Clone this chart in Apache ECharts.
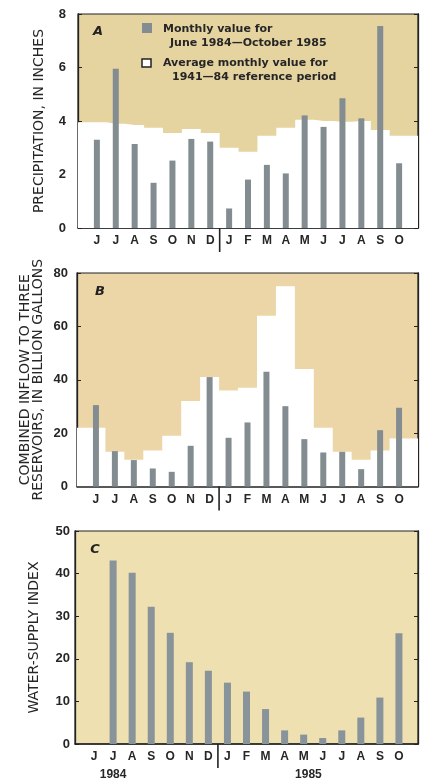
<!DOCTYPE html>
<html><head><meta charset="utf-8">
<script src="https://cdn.jsdelivr.net/npm/echarts@6/dist/echarts.min.js"></script>
<style>html,body{margin:0;padding:0;background:#fff}#c{width:421px;height:781px}</style>
</head><body><div id="c"></div>
<script>
// ---- data ----
const months = ['J','J','A','S','O','N','D','J','F','M','A','M','J','J','A','S','O'];
const precipMonthly   = [3.3, 5.95, 3.14, 1.69, 2.52, 3.33, 3.23, 0.73, 1.81, 2.36, 2.04, 4.21, 3.78, 4.85, 4.1, 7.55, 2.42];
const precipReference = [3.95, 3.9, 3.85, 3.75, 3.55, 3.7, 3.55, 3.0, 2.85, 3.45, 3.75, 4.05, 4.0, 3.97, 4.0, 3.66, 3.45];
const inflowMonthly   = [30.5, 13.25, 9.9, 6.75, 5.5, 15.25, 41, 18.25, 24, 43, 30.1, 17.75, 12.75, 13, 6.5, 21.1, 29.5];
const inflowReference = [22, 13, 10, 13.5, 19, 32, 41, 36, 37, 64, 75, 44, 22, 13, 10, 13.5, 18];
const waterSupplyIndex = [null, 43.1, 40.2, 32.2, 26.1, 19.2, 17.2, 14.4, 12.3, 8.2, 3.2, 2.2, 1.4, 3.2, 6.2, 10.9, 26];
const yearLabels = [{text:'1984', pos:1}, {text:'1985', pos:11.25}];

// ---- style ----
const FONT = 'Liberation Sans';
const TXT = '#262626';
const BAR = '#838d91';
const BAR_C = '#89939a';

const chart = echarts.init(document.getElementById('c'), null, {renderer:'canvas'});

function xAxisFor(gi){
  return {type:'value', gridIndex:gi, min:-1, max:17, interval:1,
    axisLine:{show:true, onZero:false, lineStyle:{color:'#222', width:1.5}},
    axisTick:{show:false}, splitLine:{show:false},
    axisLabel:{margin:7, color:TXT, fontFamily:FONT, fontWeight:'bold', fontSize:12,
      showMinLabel:true, showMaxLabel:true,
      formatter: v => (v >= 0 && v < months.length && Number.isInteger(v)) ? months[v] : ''}};
}
function yLeft(gi, max, interval, name, nameGap, margin){
  return {type:'value', gridIndex:gi, min:0, max:max, interval:interval, position:'left',
    axisLine:{show:true, onZero:false, lineStyle:{color:'#222', width:1.3}},
    axisTick:{show:true, inside:true, length:4, lineStyle:{color:'#222'}},
    splitLine:{show:false},
    axisLabel:{margin:margin, color:TXT, fontFamily:FONT, fontWeight:'bold', fontSize:13},
    name:name, nameLocation:'middle', nameGap:nameGap, nameRotate:90, nameMoveOverlap:false,
    nameTextStyle:{fontFamily:'DejaVu Sans', fontSize:14, color:TXT, lineHeight:13}};
}
function yRight(gi, max, interval){
  return {type:'value', gridIndex:gi, min:0, max:max, interval:interval, position:'right',
    axisLine:{show:true, onZero:false, lineStyle:{color:'#222', width:1.3}},
    axisTick:{show:true, inside:true, length:4, lineStyle:{color:'#222'}},
    splitLine:{show:false}, axisLabel:{show:false}};
}
const idx = arr => arr.map((v,i) => [i, v]);
const stepData = arr => [[-1, arr[0]]].concat(idx(arr), [[17, arr[arr.length-1]]]);

const option = {
  animation:false,
  grid:[
    {left:78, top:14, width:342, height:214, show:true, backgroundColor:'#e5d3a0', borderColor:'#222', borderWidth:1.2},
    {left:77, top:273, width:342, height:213.5, show:true, backgroundColor:'#ecd6a8', borderColor:'#222', borderWidth:1.2},
    {left:75, top:531, width:343, height:213, show:true, backgroundColor:'#efe0b2', borderColor:'#222', borderWidth:1.2}
  ],
  xAxis:[xAxisFor(0), xAxisFor(1), xAxisFor(2)],
  yAxis:[
    yLeft(0, 8, 2, 'PRECIPITATION, IN INCHES', 32, 12), yRight(0, 8, 2),
    yLeft(1, 80, 20, 'COMBINED INFLOW TO THREE\nRESERVOIRS, IN BILLION GALLONS', 32, 9), yRight(1, 80, 20),
    yLeft(2, 50, 10, 'WATER-SUPPLY INDEX', 34, 5), yRight(2, 50, 10)
  ],
  series:[
    {type:'line', name:'refA', xAxisIndex:0, yAxisIndex:0, step:'middle', data:stepData(precipReference),
      symbol:'none', lineStyle:{width:0}, areaStyle:{color:'#ffffff', opacity:1}, z:1, silent:true},
    {type:'bar', name:'precip', xAxisIndex:0, yAxisIndex:0, data:idx(precipMonthly), barWidth:6,
      itemStyle:{color:BAR}, z:3},
    {type:'line', name:'refB', xAxisIndex:1, yAxisIndex:2, step:'middle', data:stepData(inflowReference),
      symbol:'none', lineStyle:{width:0}, areaStyle:{color:'#ffffff', opacity:1}, z:1, silent:true},
    {type:'bar', name:'inflow', xAxisIndex:1, yAxisIndex:2, data:idx(inflowMonthly), barWidth:6,
      itemStyle:{color:BAR}, z:3},
    {type:'bar', name:'wsi', xAxisIndex:2, yAxisIndex:4, data:idx(waterSupplyIndex), barWidth:7,
      itemStyle:{color:BAR_C}, z:3}
  ]
};
chart.setOption(option);

// ---- decorations positioned through the axes ----
const g = [];
[0,1,2].forEach(k => {
  const x = chart.convertToPixel({xAxisIndex:k}, 6.5);
  const y = chart.convertToPixel({yAxisIndex:k*2}, 0);
  g.push({type:'line', shape:{x1:x, y1:y, x2:x, y2:y+24}, style:{stroke:'#222', lineWidth:1.6}, z:100});
});
const yC0 = chart.convertToPixel({yAxisIndex:4}, 0);
yearLabels.forEach(yl => {
  g.push({type:'text', x:chart.convertToPixel({xAxisIndex:2}, yl.pos), y:yC0+31,
    style:{text:yl.text, align:'center', verticalAlign:'middle', fill:TXT, font:'bold 12px "Liberation Sans"'}, z:100});
});
const letterFont = 'italic bold 13px "DejaVu Sans"';
g.push({type:'text', x:98, y:32, style:{text:'A', align:'center', verticalAlign:'middle', fill:'#222', font:letterFont}, z:100});
g.push({type:'text', x:100, y:292, style:{text:'B', align:'center', verticalAlign:'middle', fill:'#222', font:letterFont}, z:100});
g.push({type:'text', x:95, y:550, style:{text:'C', align:'center', verticalAlign:'middle', fill:'#222', font:letterFont}, z:100});
// legend
const legFont = 'bold 11px "DejaVu Sans"';
g.push({type:'rect', shape:{x:142, y:23, width:10, height:10}, style:{fill:BAR}, z:100});
g.push({type:'text', x:163, y:29.5, style:{text:'Monthly value for', verticalAlign:'middle', fill:TXT, font:legFont}, z:100});
g.push({type:'text', x:170, y:43, style:{text:'June 1984\u2014October 1985', verticalAlign:'middle', fill:TXT, font:legFont}, z:100});
g.push({type:'rect', shape:{x:142, y:59, width:9, height:8}, style:{fill:'#fff', stroke:'#222', lineWidth:1.5}, z:100});
g.push({type:'text', x:163, y:63, style:{text:'Average monthly value for', verticalAlign:'middle', fill:TXT, font:legFont}, z:100});
g.push({type:'text', x:172, y:77, style:{text:'1941\u201484 reference period', verticalAlign:'middle', fill:TXT, font:legFont}, z:100});
chart.setOption({graphic:g});
</script>
</body></html>
